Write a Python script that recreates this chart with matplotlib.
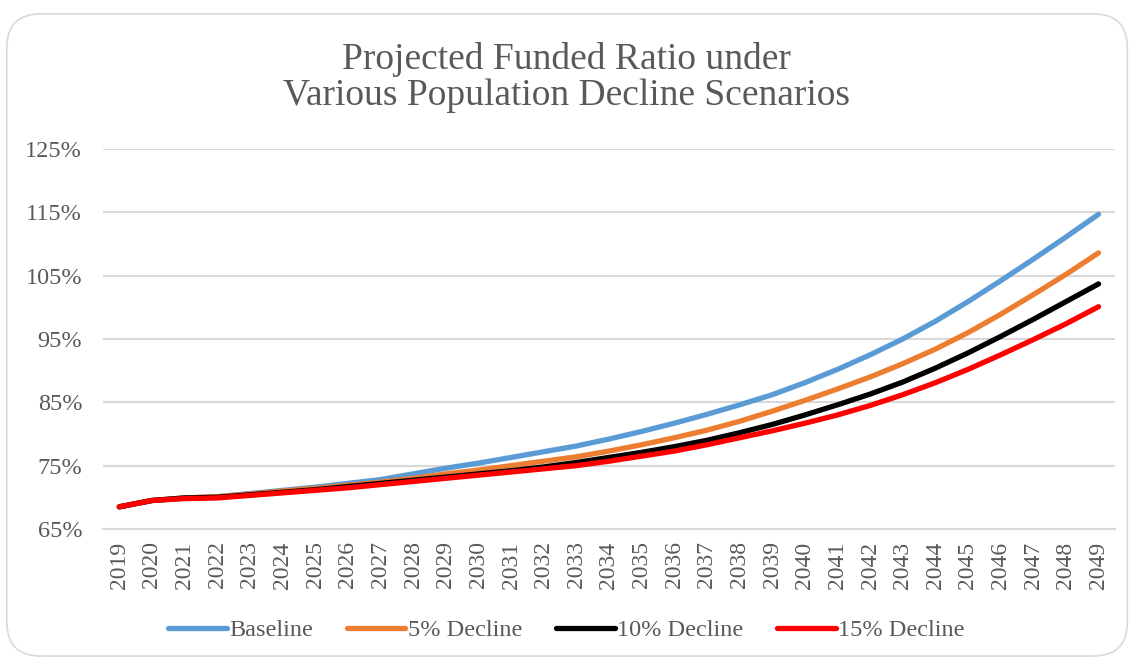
import matplotlib.pyplot as plt
from matplotlib.patches import FancyBboxPatch

plt.rcParams['font.family'] = ['Liberation Serif', 'DejaVu Serif']

years = [str(y) for y in range(2019, 2050)]

baseline = [68.5, 69.5, 69.9, 70.1, 70.6, 71.1, 71.6, 72.2, 72.8, 73.7,
            74.6, 75.4, 76.3, 77.2, 78.1, 79.2, 80.4, 81.7, 83.1, 84.6,
            86.2, 88.1, 90.2, 92.5, 95.0, 97.8, 100.9, 104.2, 107.6, 111.1,
            114.7]
decline_5 = [68.5, 69.5, 69.9, 70.1, 70.5, 71.0, 71.4, 71.9, 72.4, 73.0,
             73.7, 74.3, 75.0, 75.7, 76.4, 77.3, 78.3, 79.4, 80.6, 82.0,
             83.6, 85.3, 87.1, 89.0, 91.1, 93.4, 96.0, 98.9, 102.0, 105.2,
             108.6]
decline_10 = [68.5, 69.5, 69.9, 70.0, 70.4, 70.8, 71.2, 71.7, 72.2, 72.7,
              73.2, 73.7, 74.2, 74.8, 75.5, 76.3, 77.1, 78.0, 79.0, 80.2,
              81.5, 83.0, 84.6, 86.3, 88.2, 90.4, 92.8, 95.4, 98.1, 100.9,
              103.7]
decline_15 = [68.5, 69.5, 69.8, 69.9, 70.3, 70.7, 71.1, 71.5, 72.0, 72.5,
              73.0, 73.5, 74.0, 74.5, 75.0, 75.7, 76.5, 77.3, 78.3, 79.4,
              80.5, 81.7, 83.0, 84.5, 86.2, 88.1, 90.2, 92.5, 94.9, 97.4,
              100.1]

series = [
    ("Baseline", baseline, "#5B9BD5"),
    ("5% Decline", decline_5, "#ED7D31"),
    ("10% Decline", decline_10, "#000000"),
    ("15% Decline", decline_15, "#FF0000"),
]
yticks = [65, 75, 85, 95, 105, 115, 125]

text_color = "#595959"
grid_color = "#D9D9D9"

fig = plt.figure(figsize=(11.33, 6.6), dpi=100)
ax = fig.add_axes([0.0909, 0.1985, 0.8931, 0.5757])

# rounded chart frame
frame = FancyBboxPatch((0.006, 0.006), 0.989, 0.973,
                       boxstyle="round,pad=0,rounding_size=0.03",
                       transform=fig.transFigure, facecolor="none",
                       edgecolor=grid_color, linewidth=1.2,
                       mutation_aspect=1133 / 660)
fig.patches.append(frame)

x = list(range(len(years)))
for label, vals, color in series:
    ax.plot(x, vals, color=color, linewidth=3.8, label=label,
            solid_capstyle='round', solid_joinstyle='round')

ax.set_xlim(-0.5, len(years) - 0.5)
ax.set_ylim(65, 125)
ax.set_xticks(x)
ax.set_xticklabels(years, rotation=90, fontsize=17, color=text_color)
ax.set_yticks(yticks)
ax.set_yticklabels([f"{v}%" for v in yticks], fontsize=17.5, color=text_color)
ax.tick_params(axis='both', length=0)
ax.tick_params(axis='y', pad=15)
ax.tick_params(axis='x', pad=9)

ax.grid(axis='y', color=grid_color, linewidth=1.5)
ax.set_axisbelow(True)
for side in ['top', 'right', 'left']:
    ax.spines[side].set_visible(False)
ax.spines['bottom'].set_color(grid_color)
ax.spines['bottom'].set_linewidth(1.5)

fig.text(0.5, 0.883, "Projected Funded Ratio under\nVarious Population Decline Scenarios",
         ha='center', va='center', fontsize=27, color=text_color, linespacing=1.05)

leg = fig.legend(loc='center', bbox_to_anchor=(0.5, 0.045), ncol=4, frameon=False,
                 fontsize=17.5, handlelength=2.4, handletextpad=0.1, columnspacing=1.4)
for t in leg.get_texts():
    t.set_color(text_color)

fig.savefig("out.png", dpi=100)
